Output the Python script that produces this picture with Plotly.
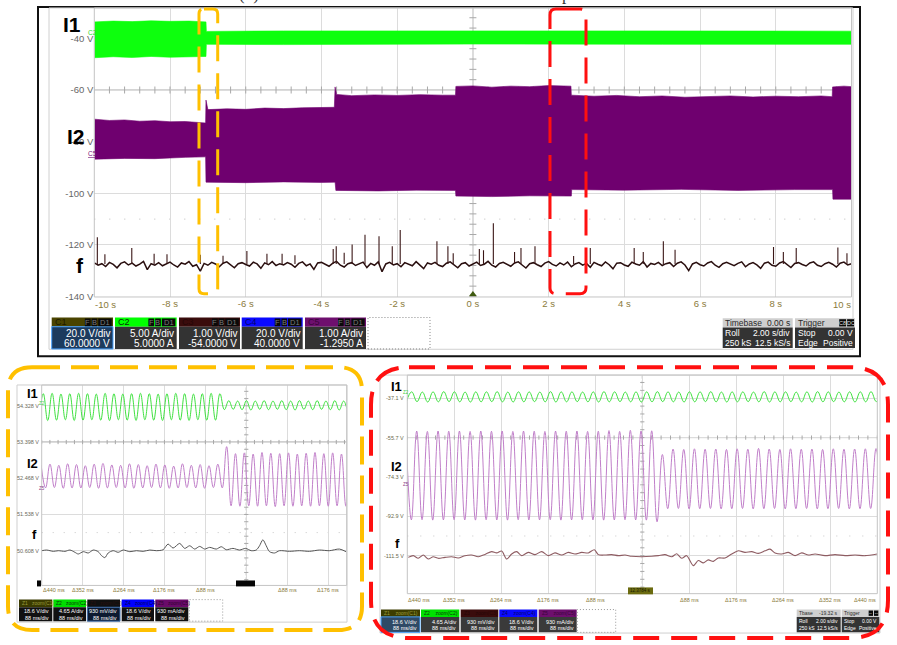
import numpy as np
import plotly.graph_objects as go

W, H = 897, 645

# ================= DATA =================
# ---- main (roll mode, 20 s) ----
main_xticks = [-8, -6, -4, -2, 0, 2, 4, 6, 8]
main_xtick_text = ["-8 s", "-6 s", "-4 s", "-2 s", "0 s", "2 s", "4 s", "6 s", "8 s"]
main_yticks = [-40, -60, -80, -100, -120, -140]
main_ytick_text = ["-40 V", "-60 V", "-80 V", "-100 V", "-120 V", "-140 V"]

# I1 envelope (green band)
i1_t = [-10, -9.5, -9.0, -8.5, -8.0, -7.5, -7.05, -7.04, -5.0, 0.0, 5.0, 10]
i1_top = [-33.6, -33.3, -33.5, -33.2, -33.4, -33.3, -33.6, -37.3, -37.1, -37.0, -37.1, -37.2]
i1_bot = [-47.5, -47.1, -47.4, -47.0, -47.3, -47.2, -47.0, -42.3, -42.4, -42.2, -42.3, -42.3]

# I2 envelope (purple band)
i2_top_t = [-10, -9.6, -9.2, -8.8, -8.4, -8.0, -7.6, -7.2, -7.06, -7.05, -7.0,
            -6.5, -6.0, -5.5, -5.0, -4.5, -4.0, -3.66, -3.64, -3.6,
            -3.2, -2.6, -2.0, -1.4, -0.8, -0.46, -0.45, 0.0, 0.5, 1.0, 1.5, 2.0, 2.59,
            2.6, 3.2, 3.8, 4.4, 5.0, 5.6, 6.2, 6.8, 7.4, 8.0, 8.6, 9.2, 9.49, 9.5, 9.8, 10]
i2_top_v = [-71.3, -71.8, -71.6, -72.1, -71.9, -72.3, -72.2, -72.8, -72.8, -63.9, -67.6,
            -67.3, -67.5, -67.0, -67.2, -66.9, -66.8, -66.7, -58.8, -61.7,
            -62.2, -61.9, -62.1, -61.8, -62.0, -62.0, -58.6, -58.4, -58.9, -58.5, -58.7, -58.3, -58.5,
            -62.0, -62.4, -62.1, -62.6, -62.3, -62.8, -62.5, -62.3, -62.7, -62.4, -62.6, -62.3, -62.6, -58.8, -58.5, -58.7]
i2_bot_t = [-10, -9.2, -8.4, -7.6, -7.06, -7.05, -6.0, -5.0, -4.0, -3.64, -3.62, -2.5, -1.5,
            -0.46, -0.45, 0.5, 1.5, 2.6, 2.61, 4.0, 5.5, 7.0, 8.5, 9.5, 9.51, 10]
i2_bot_v = [-86.8, -86.5, -86.6, -86.1, -85.9, -95.7, -95.9, -95.6, -95.8, -95.7, -98.9, -99.1, -98.8,
            -98.9, -101.1, -101.3, -101.0, -101.1, -98.6, -98.8, -98.5, -98.9, -98.6, -98.6, -102.3, -102.3]

# f trace (sampled every 0.1 s from -10 s to 10 s)
f_step = 0.1
f_main = [
    -127.0, -127.9, -127.3, -128.4, -126.8, -127.6, -128.9, -127.2, -126.6, -127.8,
    -127.1, -128.2, -127.5, -126.4, -129.6, -127.3, -127.9, -126.9, -128.1, -127.4,
    -126.7, -127.8, -128.6, -127.0, -127.5, -126.5, -128.3, -127.7, -130.2, -127.2,
    -127.9, -126.8, -127.4, -128.5, -127.1, -126.6, -127.8, -128.9, -127.3, -126.9,
    -127.6, -128.2, -126.7, -127.4, -129.1, -127.0, -127.7, -126.5, -128.0, -127.3,
    -127.8, -126.9, -127.5, -128.7, -127.2, -126.6, -128.1, -127.4, -129.5, -127.0,
    -126.8, -127.7, -128.3, -127.1, -126.4, -127.9, -128.6, -127.3, -126.9, -128.0,
    -127.5, -126.7, -128.8, -127.2, -127.9, -126.6, -130.4, -127.4, -126.8, -127.8,
    -127.3, -128.5, -126.9, -127.6, -128.1, -126.5, -127.7, -129.2, -127.0, -127.5,
    -126.8, -127.9, -128.4, -127.1, -126.6, -127.7, -128.9, -127.3, -126.9, -128.2,
    -127.4, -126.7, -128.0, -127.5, -126.4, -127.9, -128.6, -127.2, -126.8, -127.6,
    -128.3, -127.0, -126.6, -127.8, -129.0, -127.3, -126.9, -127.7, -128.4, -127.1,
    -126.5, -127.6, -128.2, -127.0, -127.8, -126.7, -128.5, -127.4, -126.9, -127.9,
    -127.2, -128.7, -126.8, -127.5, -128.1, -126.6, -127.7, -129.3, -127.1, -126.9,
    -127.8, -128.3, -126.7, -127.4, -127.9, -126.5, -128.6, -127.2, -127.6, -126.8,
    -128.0, -127.3, -126.9, -128.4, -127.1, -126.6, -127.8, -130.0, -127.4, -126.8,
    -127.7, -128.2, -127.0, -126.5, -127.9, -128.7, -127.3, -126.8, -127.6, -128.1,
    -127.2, -126.6, -128.5, -127.4, -126.9, -127.8, -129.1, -127.1, -126.7, -127.9,
    -128.3, -127.0, -126.5, -127.7, -128.8, -127.2, -126.9, -127.6, -128.2, -127.0,
    -126.6, -127.9, -128.4, -127.3, -126.8, -127.5, -128.6, -127.1, -126.7, -127.8,
    -127.3]
f_base = -127.4
f_spike_t = [-9.92, -9.72, -9.01, -8.42, -8.08, -7.2, -6.6, -5.97, -5.44, -5.04, -4.7, -3.69, -3.61, -3.40,
             -3.19, -2.85, -2.48, -2.13, -1.92, -0.95, -0.66, -0.52, 0.17, 0.28, 0.54, 1.10, 1.27,
             1.64, 2.66, 3.10, 4.26, 4.50, 5.03, 5.34, 7.94, 8.20, 8.54, 9.64, 9.88]
f_spike_v = [-117.1, -123.6, -121.2, -123.4, -123.6, -123.8, -124.2, -122.4, -123.4, -123.4, -124.0, -121.6,
             -120.5, -123.1, -119.9, -116.1, -116.7, -120.5, -114.2, -118.6, -120.5, -123.3, -121.6,
             -122.1, -111.6, -122.8, -121.2, -120.5, -124.3, -121.2, -121.2, -122.8, -118.6, -121.9,
             -120.8, -122.8, -121.2, -121.0, -123.3]

# ---- left zoom (orange box) ----
lz_xgrid = [-352, -264, -176, -88, 0, 88, 176]
lz_xlabels = ["Δ352 ms", "Δ264 ms", "Δ176 ms", "Δ88 ms", "Δ88 ms", "Δ176 ms"]
lz_xlabel_pos = [-352, -264, -176, -88, 88, 176]
lz_ylevels = [54.328, 53.398, 52.468, 51.538, 50.608, 49.678]
lz_ylabels = ["54.328 V", "53.398 V", "52.468 V", "51.538 V", "50.608 V", "49.678"]
lz_half_period = 9.5
lz_i1_t0 = -446.1
lz_i1_big = [53.97, 54.64, 53.95, 54.65, 53.96, 54.63, 53.97, 54.64, 53.95, 54.65, 53.96, 54.64,
             53.97, 54.63, 53.96, 54.65, 53.95, 54.64, 53.97, 54.63, 53.96, 54.64, 53.95, 54.65,
             53.97, 54.64, 53.96, 54.63, 53.95, 54.64, 53.97, 54.65, 53.96, 54.64, 53.95, 54.63,
             53.97, 54.64, 53.96, 54.65, 53.96, 54.64]
lz_i1_small = [54.23, 54.46, 54.24, 54.45, 54.23, 54.46, 54.22, 54.45, 54.24, 54.46, 54.23, 54.45,
               54.24, 54.46, 54.23, 54.45, 54.22, 54.46, 54.24, 54.45, 54.23, 54.46, 54.24, 54.45,
               54.23, 54.46, 54.22, 54.45, 54.24, 54.46]
lz_i2_t0 = -441.2
lz_i2_small = [52.81, 52.22, 52.83, 52.23, 52.80, 52.21, 52.84, 52.22, 52.82, 52.22, 52.79, 52.23,
               52.83, 52.21, 52.85, 52.22, 52.81, 52.23, 52.80, 52.22, 52.84, 52.21, 52.82, 52.22,
               52.79, 52.23, 52.83, 52.22, 52.81, 52.21, 52.78, 52.22, 52.84, 52.23, 52.80, 52.22,
               52.82, 52.21, 52.79, 52.23, 52.83, 52.22]
lz_i2_big = [53.28, 51.76, 53.10, 51.75, 53.12, 51.76, 53.09, 51.75, 53.13, 51.76, 53.11, 51.74,
             53.10, 51.76, 53.12, 51.75, 53.09, 51.76, 53.11, 51.75, 53.13, 51.76, 53.10, 51.75,
             53.12, 51.76, 53.09, 51.75, 53.11]
lz_f_t = [-440, -429.3, -415, -404.3, -390, -379.3, -368.5, -361.4, -350.6, -339.9, -329.2, -318.5,
          -311.3, -304.1, -297, -286.2, -275.5, -264.8, -250.5, -236.2, -221.9, -207.5, -193.2,
          -178.9, -168.2, -157.5, -143.2, -132.4, -121.7, -111, -100.2, -89.5, -78.8, -64.4, -53.7,
          -43, -28.7, -14.4, -1.5, 10.7, 21.4, 28.6, 35.7, 42.9, 50, 60.8, 71.5, 93, 114.4, 135.9,
          157.3, 178.8, 200.3, 214.6]
lz_f_v = [50.608, 50.625, 50.591, 50.608, 50.591, 50.625, 50.566, 50.523, 50.583, 50.549, 50.625,
          50.583, 50.481, 50.430, 50.549, 50.608, 50.566, 50.625, 50.583, 50.608, 50.591, 50.625,
          50.608, 50.633, 50.778, 50.676, 50.795, 50.667, 50.735, 50.650, 50.718, 50.650, 50.693,
          50.650, 50.710, 50.633, 50.667, 50.625, 50.667, 50.608, 50.625, 50.735, 50.888, 50.735,
          50.583, 50.549, 50.608, 50.591, 50.608, 50.591, 50.625, 50.608, 50.650, 50.583]

# ---- right zoom (red box) ----
rz_xgrid = [-352, -264, -176, -88, 0, 88, 176, 264, 352]
rz_xlabels = ["Δ440 ms", "Δ352 ms", "Δ264 ms", "Δ176 ms", "Δ88 ms", "Δ88 ms", "Δ176 ms",
              "Δ264 ms", "Δ352 ms", "Δ440 ms"]
rz_xlabel_pos = [-440, -352, -264, -176, -88, 88, 176, 264, 352, 440]
rz_ylevels = [-37.1, -55.7, -74.3, -92.9, -111.5, -130.1]
rz_ylabels = ["-37.1 V", "-55.7 V", "-74.3 V", "-92.9 V", "-111.5 V", "-130.1"]
rz_half_period = 10.0
rz_i1_t0 = -441.8
rz_i1 = [-38.8, -34.1, -38.7, -34.2, -38.9, -34.1, -38.8, -34.0, -38.7, -34.1, -38.8, -34.2,
         -38.9, -34.1, -38.8, -34.1, -38.7, -34.0, -38.8, -34.2, -38.9, -34.1, -38.8, -34.1,
         -38.7, -34.2, -38.8, -34.0, -38.9, -34.1, -38.8, -34.1, -38.7, -34.2, -38.8, -34.1,
         -38.9, -34.0, -38.8, -34.1, -38.7, -34.2, -38.8, -34.1, -38.9, -34.1, -38.8, -34.0,
         -38.7, -34.1, -38.8, -34.2, -38.9, -34.1, -38.8, -34.1, -38.7, -34.0, -38.8, -34.2,
         -38.9, -34.1, -38.8, -34.1, -38.7, -34.2, -38.8, -34.0, -38.9, -34.1, -38.8, -34.1,
         -38.7, -34.2, -38.8, -34.1, -38.9, -34.0, -38.8, -34.1, -38.7, -34.2, -38.8, -34.1,
         -38.9, -34.1, -38.8, -34.0, -38.7, -34.1]
rz_i2_t0 = -442.4
rz_i2_big = [-52.7, -94.6, -52.6, -94.5, -52.8, -94.7, -52.6, -94.6, -52.7, -94.5, -52.6, -94.6,
             -52.8, -94.7, -52.6, -94.5, -52.7, -94.6, -52.6, -94.7, -52.8, -94.5, -52.6, -94.6,
             -52.7, -94.6, -52.8, -94.5, -52.6, -94.7, -52.7, -94.6, -52.6, -94.5, -52.8, -94.6,
             -52.7, -94.7, -52.4, -94.6, -52.8, -94.5, -52.3, -94.6, -52.6, -94.7, -52.5, -95.5]
rz_i2_small = [-63.7, -89.3, -61.1, -89.2, -61.3, -89.4, -61.0, -89.3, -61.2, -89.2, -61.1, -89.4,
               -61.3, -89.3, -61.0, -89.2, -61.2, -89.4, -60.8, -89.3, -61.1, -89.2, -61.3, -89.4,
               -61.0, -89.3, -61.2, -89.2, -61.1, -89.4, -61.3, -89.3, -61.0, -89.2, -61.2, -89.4,
               -61.1, -89.3, -61.0, -89.2, -60.9, -89.3]
rz_f_t = [-438.2, -428.8, -419.5, -410.1, -400.7, -391.4, -382, -369.5, -356.9, -344.6, -332, -319.5,
          -307.1, -294.6, -282, -272.7, -263.3, -253.9, -244.6, -235.2, -225.8, -213.5, -200.9,
          -188.4, -176, -163.5, -150.9, -138.6, -126, -113.5, -101.1, -89.9, -82.4, -69.9, -57.3,
          -44.9, -32.4, -19.9, -1.1, 17.6, 30, 42.5, 55.1, 64.4, 73.8, 83.1, 95.5, 104.9, 114.2,
          123.6, 133, 142.3, 154.9, 167.4, 179.8, 192.3, 204.9, 217.2, 229.8, 239.1, 248.5, 261,
          273.4, 286, 298.5, 310.9, 323.4, 342.1, 360.9, 379.6, 398.3, 417, 440]
rz_f_v = [-112.3, -111.5, -112.75, -111.2, -113.1, -112.0, -112.75, -112.3, -112.0, -112.6, -111.5,
          -111.2, -112.0, -110.9, -109.6, -110.2, -109.3, -113.1, -110.7, -109.6, -111.5, -109.95,
          -111.0, -109.6, -111.5, -110.2, -111.2, -109.95, -110.7, -109.95, -110.2, -108.7, -111.0,
          -111.2, -111.0, -111.5, -111.2, -111.8, -112.0, -111.8, -111.5, -111.0, -112.0, -110.6,
          -112.75, -111.5, -116.2, -113.8, -114.9, -113.5, -114.2, -112.6, -112.6, -110.7, -109.2,
          -109.95, -109.6, -110.4, -109.2, -108.4, -110.2, -110.7, -109.95, -111.5, -110.2, -111.2,
          -110.7, -111.5, -111.0, -111.5, -111.2, -111.5, -110.7]

# ================= HELPERS =================
def X(p):
    return p / W


def Y(p):
    return 1 - p / H


shapes = []
annotations = []
FONT = "Liberation Sans, Arial, sans-serif"
GRID = "#dcdcdc"
AX = "#a8a8a8"


def rect(x0, y0, x1, y1, fill=None, line_color=None, line_width=1, dash=None, layer="above"):
    d = dict(type="rect", xref="paper", yref="paper", x0=X(x0), x1=X(x1), y0=Y(y1), y1=Y(y0),
             layer=layer,
             line=dict(width=line_width if line_color else 0,
                       color=line_color if line_color else "rgba(0,0,0,0)"))
    if dash:
        d["line"]["dash"] = dash
    if fill:
        d["fillcolor"] = fill
    shapes.append(d)


def text(s, x, y, size=9, color="#000", xanchor="center", yanchor="middle", bold=False,
         family=FONT, xref="paper", yref="paper"):
    xx = X(x) if xref == "paper" else x
    yy = Y(y) if yref == "paper" else y
    annotations.append(dict(text=f"<b>{s}</b>" if bold else s, x=xx, y=yy, xref=xref, yref=yref,
                            xanchor=xanchor, yanchor=yanchor, showarrow=False, borderpad=0,
                            font=dict(size=size, color=color, family=family)))


def rpath(x0, y0, x1, y1, r):
    def P(x, y):
        return f"{X(x):.5f},{Y(y):.5f}"
    return (f"M {P(x0 + r, y0)} L {P(x1 - r, y0)} Q {P(x1, y0)} {P(x1, y0 + r)} "
            f"L {P(x1, y1 - r)} Q {P(x1, y1)} {P(x1 - r, y1)} L {P(x0 + r, y1)} "
            f"Q {P(x0, y1)} {P(x0, y1 - r)} L {P(x0, y0 + r)} Q {P(x0, y0)} {P(x0 + r, y0)} Z")


def dashed_box(x0, y0, x1, y1, r, color, width, dash):
    shapes.append(dict(type="path", xref="paper", yref="paper", path=rpath(x0, y0, x1, y1, r),
                       line=dict(color=color, width=width, dash=dash), layer="above"))


def chan_box(x0, x1, y0, yh, y1, head, name, name_col, body, border, l1, l2, fh, fb, minis=True,
             mini_labels=("F", "B", "D1")):
    rect(x0, y0, x1, yh, fill=head)
    rect(x0, yh, x1, y1, fill=body, line_color=border, line_width=1 if border else 0)
    text(name, x0 + 2, (y0 + yh) / 2, size=fh, color=name_col, xanchor="left")
    if minis:
        w = x1 - x0
        k = w / 61.0
        segs = [(-28, -22.3), (-21.3, -15.7), (-14.7, -1.3)]
        for (a, b), lab in zip(segs, mini_labels):
            rect(x1 + a * k, y0 + 1, x1 + b * k, yh - 0.5, fill="#0a0a0a")
            text(lab, x1 + (a + b) / 2 * k, (y0 + yh) / 2, size=fh - 1.5, color="#7a7a7a")
    text(l1, x1 - 2, yh + (y1 - yh) * 0.3, size=fb, color="#ffffff", xanchor="right")
    text(l2, x1 - 2, yh + (y1 - yh) * 0.75, size=fb, color="#ffffff", xanchor="right")


def info_box(x0, x1, y0, yh, y1, head_l, head_r, rows, fh, fb, badges=None):
    rect(x0, y0, x1, yh, fill="#cfcfcf")
    rect(x0, yh, x1, y1, fill="#333333")
    text(head_l, x0 + 1.5, (y0 + yh) / 2, size=fh, color="#2a2a2a", xanchor="left")
    if head_r:
        text(head_r, x1 - 1.5, (y0 + yh) / 2, size=fh, color="#2a2a2a", xanchor="right")
    if badges:
        bw = (x1 - x0) * 0.115
        for i, b in enumerate(badges):
            bx1 = x1 - 1 - i * (bw + 1)
            rect(bx1 - bw, y0 + 1, bx1, yh - 1, fill="#0a0a0a")
            text(b, bx1 - bw / 2, (y0 + yh) / 2, size=fh - 3, color="#dddddd")
    for i, (a, b) in enumerate(rows):
        yy = yh + (y1 - yh) * (0.28 + 0.47 * i)
        text(a, x0 + 1.5, yy, size=fb, color="#ffffff", xanchor="left")
        text(b, x1 - 1.5, yy, size=fb, color="#ffffff", xanchor="right")


def extrema_times(t0, half, n):
    return [t0 + half * k for k in range(n)]


def tick_marks(xs, ys, sym, size, xa, ya):
    return go.Scatter(x=xs, y=ys, mode="markers",
                      marker=dict(symbol=sym, size=size, color=AX, line=dict(color=AX, width=1)),
                      xaxis=xa, yaxis=ya, hoverinfo="skip", showlegend=False)


# ================= FIGURE =================
fig = go.Figure()

# --- center-axis tick marks (decoration) ---
tk_main_x = list(np.arange(-10, 10.001, 0.4))
fig.add_trace(tick_marks(tk_main_x, [-60] * len(tk_main_x), "line-ns-open", 5, "x", "y"))
tk_main_y = list(np.arange(-140, -28, 4))
fig.add_trace(tick_marks([0] * len(tk_main_y), tk_main_y, "line-ew-open", 5, "x", "y"))

# --- main traces ---
fig.add_trace(go.Scatter(x=i1_t + i1_t[::-1], y=i1_top + i1_bot[::-1], fill="toself",
                         fillcolor="#0dff0d", line=dict(color="#0dff0d", width=0.6), mode="lines",
                         xaxis="x", yaxis="y", hoverinfo="skip", showlegend=False))
fig.add_trace(go.Scatter(x=i2_top_t + i2_bot_t[::-1], y=i2_top_v + i2_bot_v[::-1], fill="toself",
                         fillcolor="#6f006f", line=dict(color="#6f006f", width=0.6), mode="lines",
                         xaxis="x", yaxis="y", hoverinfo="skip", showlegend=False))
f_main_t = [round(-10 + f_step * i, 2) for i in range(len(f_main))]
fig.add_trace(go.Scatter(x=f_main_t, y=f_main, mode="lines", line=dict(color="#2a0f0f", width=1.5),
                         xaxis="x", yaxis="y", hoverinfo="skip", showlegend=False))
sx, sy = [], []
for t, v in zip(f_spike_t, f_spike_v):
    sx += [t, t, None]
    sy += [f_base, v, None]
fig.add_trace(go.Scatter(x=sx, y=sy, mode="lines", line=dict(color="#3a1616", width=1.1),
                         xaxis="x", yaxis="y", hoverinfo="skip", showlegend=False))
fig.add_trace(go.Scatter(x=[0], y=[-139.2], mode="markers",
                         marker=dict(symbol="triangle-up", size=7, color="#3f5a10"),
                         xaxis="x", yaxis="y", hoverinfo="skip", showlegend=False))

# --- left zoom traces ---
tk = list(np.arange(-440, 216.1, 17.6))
fig.add_trace(tick_marks(tk, [53.398] * len(tk), "line-ns-open", 3, "x2", "y2"))
tky = list(np.arange(49.678, 54.86, 0.186))
fig.add_trace(tick_marks([0] * len(tky), tky, "line-ew-open", 3, "x2", "y2"))
lz_i1 = lz_i1_big + lz_i1_small
fig.add_trace(go.Scatter(x=extrema_times(lz_i1_t0, lz_half_period, len(lz_i1)), y=lz_i1,
                         mode="lines", line=dict(color="#3fe03f", width=1, shape="spline", smoothing=1.2),
                         xaxis="x2", yaxis="y2", hoverinfo="skip", showlegend=False))
lz_i2 = lz_i2_small + lz_i2_big
fig.add_trace(go.Scatter(x=extrema_times(lz_i2_t0, lz_half_period, len(lz_i2)), y=lz_i2,
                         mode="lines", line=dict(color="#c07fc9", width=1, shape="spline", smoothing=1.2),
                         xaxis="x2", yaxis="y2", hoverinfo="skip", showlegend=False))
fig.add_trace(go.Scatter(x=lz_f_t, y=lz_f_v, mode="lines",
                         line=dict(color="#555555", width=1, shape="spline", smoothing=0.8),
                         xaxis="x2", yaxis="y2", hoverinfo="skip", showlegend=False))

# --- right zoom traces ---
tk = list(np.arange(-440, 440.1, 17.6))
fig.add_trace(tick_marks(tk, [-55.7] * len(tk), "line-ns-open", 3, "x3", "y3"))
tky = list(np.arange(-130.1, -26.2, 3.72))
fig.add_trace(tick_marks([0] * len(tky), tky, "line-ew-open", 3, "x3", "y3"))
fig.add_trace(go.Scatter(x=extrema_times(rz_i1_t0, rz_half_period, len(rz_i1)), y=rz_i1,
                         mode="lines", line=dict(color="#3fe03f", width=1, shape="spline", smoothing=1.2),
                         xaxis="x3", yaxis="y3", hoverinfo="skip", showlegend=False))
rz_i2 = rz_i2_big + rz_i2_small
fig.add_trace(go.Scatter(x=extrema_times(rz_i2_t0, rz_half_period, len(rz_i2)), y=rz_i2,
                         mode="lines", line=dict(color="#c07fc9", width=1, shape="spline", smoothing=1.2),
                         xaxis="x3", yaxis="y3", hoverinfo="skip", showlegend=False))
fig.add_trace(go.Scatter(x=rz_f_t, y=rz_f_v, mode="lines",
                         line=dict(color="#8e5c62", width=1.1, shape="spline", smoothing=0.8),
                         xaxis="x3", yaxis="y3", hoverinfo="skip", showlegend=False))

# ================= DECORATION =================
# main screen
rect(38, 7, 860, 359, line_color="#111111", line_width=2)
rect(49, 8, 853, 352, line_color="#d0d0d0", line_width=1)
shapes.append(dict(type="rect", xref="x domain", yref="y domain", x0=0, x1=1, y0=0, y1=1,
                   line=dict(color="#c4c4c4", width=1), layer="above"))
shapes.append(dict(type="line", xref="x", yref="y domain", x0=0, x1=0, y0=0, y1=1,
                   line=dict(color=AX, width=1), layer="below"))
shapes.append(dict(type="line", xref="x domain", yref="y", x0=0, x1=1, y0=-60, y1=-60,
                   line=dict(color=AX, width=1), layer="below"))
shapes.append(dict(type="line", xref="x domain", yref="y", x0=0, x1=1, y0=-110, y1=-110,
                   line=dict(color="#c8c8c8", width=1.2, dash="1px,14px"), layer="below"))

text("I1", 62, 25, size=21, bold=True, xanchor="left")
text("I2", 66, 138, size=21, bold=True, xanchor="left")
text("f", 75, 268, size=21, bold=True, xanchor="left")
text("C2", 87, 33, size=6.5, color="#2bd92b", xanchor="left")
text("<u>C5</u>", 87, 155, size=6.5, color="#7a1a7a", xanchor="left")
text("-10 s", -10, 307, size=9.5, color="#8a7a3a", xanchor="left", xref="x")
text("10 s", 10, 307, size=9.5, color="#8a7a3a", xanchor="right", xref="x")

# main channel boxes
ch_y = (320, 329.3, 351.7)
chan_box(51.7, 113, *ch_y, "#4a4400", "C1", "#1e1b00", "#1c3b5e", "#4aa3ff", "20.0 V/div", "60.0000 V", 9, 10)
chan_box(115, 176.7, *ch_y, "#00ff00", "C2", "#0a2a0a", "#333333", None, "5.00 A/div", "5.0000 A", 9, 10)
chan_box(179, 240, *ch_y, "#3a0c0c", "C3", "#250707", "#333333", None, "1.00 V/div", "-54.0000 V", 9, 10)
chan_box(241.7, 302.7, *ch_y, "#0a0aff", "C4", "#04046a", "#333333", None, "20.0 V/div", "40.0000 V", 9, 10)
chan_box(305, 366, *ch_y, "#6e0f6e", "C5", "#3a053a", "#333333", None, "1.00 A/div", "-1.2950 A", 9, 10)
rect(368, 320, 430, 351.7, line_color="#888888", line_width=1, dash="1px,2px")
info_box(722.7, 792.7, 320.7, 330, 350.7, "Timebase", "0.00 s",
         [("Roll", "2.00 s/div"), ("250 kS", "12.5 kS/s")], 8.5, 8.5)
info_box(795, 855, 320.7, 330, 350.7, "Trigger", None,
         [("Stop", "0.00 V"), ("Edge", "Positive")], 8.5, 8.5, badges=["DC", "C8"])

# left zoom screen
rect(17, 388, 347, 627, line_color="#cfcfcf", line_width=1)
shapes.append(dict(type="rect", xref="x2 domain", yref="y2 domain", x0=0, x1=1, y0=0, y1=1,
                   line=dict(color="#c4c4c4", width=1), layer="above"))
shapes.append(dict(type="line", xref="x2", yref="y2 domain", x0=0, x1=0, y0=0, y1=1,
                   line=dict(color="#9a9a9a", width=1, dash="3px,2px"), layer="below"))
shapes.append(dict(type="line", xref="x2 domain", yref="y2", x0=0, x1=1, y0=53.398, y1=53.398,
                   line=dict(color="#9a9a9a", width=1), layer="below"))
shapes.append(dict(type="line", xref="x2 domain", yref="y2", x0=0, x1=1, y0=51.073, y1=51.073,
                   line=dict(color="#c8c8c8", width=1, dash="1px,10px"), layer="below"))
for v, lab in zip(lz_ylevels, lz_ylabels):
    text(lab, 40, v, size=5.5, color="#6a6a5a", xanchor="right", yref="y2")
for xv, lab in zip(lz_xlabel_pos, lz_xlabels):
    text(lab, xv, 595, size=5.5, color="#8a7a3a", xref="x2")
text("Δ440 ms", -440, 595, size=5.5, color="#8a7a3a", xanchor="left", xref="x2")
text("Z2", 38, 407, size=4.5, color="#3fd03f", xanchor="left")
text("Z5", 38, 492, size=4.5, color="#8a3a8a", xanchor="left")
text("I1", 26, 397, size=13, bold=True, xanchor="left")
text("I2", 26, 467, size=13, bold=True, xanchor="left")
text("f", 31, 539, size=13, bold=True, xanchor="left")
rect(236, 585, 255, 591, fill="#050505")
rect(37, 585, 41, 591, fill="#050505")

zl = (604.3, 612, 626)
chan_box(19, 52.3, *zl, "#3b3b00", "Z1   zoom(C1)", "#9a9a3a", "#111111", None, "18.6 V/div", "88 ms/div", 5, 5.5, minis=False)
chan_box(53.3, 86, *zl, "#00dd00", "Z2   zoom(C2)", "#0a3a0a", "#111111", None, "4.65 A/div", "88 ms/div", 5, 5.5, minis=False)
chan_box(87.3, 120, *zl, "#101010", "Z3   zoom(C3)", "#2a1010", "#0d1a30", "#3a6aa8", "930 mV/div", "88 ms/div", 5, 5.5, minis=False)
chan_box(121.7, 154, *zl, "#0000ff", "Z4   zoom(C4)", "#00005a", "#111111", None, "18.6 V/div", "88 ms/div", 5, 5.5, minis=False)
chan_box(155.3, 188.3, *zl, "#6a0a6a", "Z5   zoom(C5)", "#300530", "#111111", None, "930 mA/div", "88 ms/div", 5, 5.5, minis=False)
rect(189.3, 604.3, 222.7, 626, line_color="#999999", line_width=1, dash="1px,2px")

# right zoom screen
rect(380, 378, 880, 638, line_color="#cfcfcf", line_width=1)
shapes.append(dict(type="rect", xref="x3 domain", yref="y3 domain", x0=0, x1=1, y0=0, y1=1,
                   line=dict(color="#c4c4c4", width=1), layer="above"))
shapes.append(dict(type="line", xref="x3", yref="y3 domain", x0=0, x1=0, y0=0, y1=1,
                   line=dict(color="#9a9a9a", width=1, dash="3px,2px"), layer="below"))
shapes.append(dict(type="line", xref="x3 domain", yref="y3", x0=0, x1=1, y0=-55.7, y1=-55.7,
                   line=dict(color="#9a9a9a", width=1), layer="below"))
shapes.append(dict(type="line", xref="x3 domain", yref="y3", x0=0, x1=1, y0=-102.2, y1=-102.2,
                   line=dict(color="#c8c8c8", width=1, dash="1px,12px"), layer="below"))
for v, lab in zip(rz_ylevels, rz_ylabels):
    text(lab, 405, v, size=5.5, color="#6a6a4a", xanchor="right", yref="y3")
for i, (xv, lab) in enumerate(zip(rz_xlabel_pos, rz_xlabels)):
    anc = "left" if i == 0 else ("right" if i == len(rz_xlabels) - 1 else "center")
    text(lab, xv, 604.3, size=5.5, color="#8a7a3a", xanchor=anc, xref="x3")
text("Z2", 402, 396, size=4.5, color="#3fd03f", xanchor="left")
text("Z5", 402, 488, size=4.5, color="#8a3a8a", xanchor="left")
text("I1", 390, 390, size=13, bold=True, xanchor="left")
text("I2", 390, 470, size=13, bold=True, xanchor="left")
text("f", 394, 548, size=13, bold=True, xanchor="left")
rect(628, 592, 653, 599, fill="#6b6b10")
text("12.3784 s", 640.5, 595.5, size=4.5, color="#1a1a00")

zr = (614.3, 621.7, 637.3)
chan_box(381, 420, *zr, "#3d3d00", "Z1    zoom(C1)", "#9a9a3a", "#2f4a66", "#4aa3ff", "18.6 V/div", "88 ms/div", 5, 5.5, minis=False)
chan_box(421, 459.3, *zr, "#00e000", "Z2    zoom(C2)", "#0a3a0a", "#3a3a3a", None, "4.65 A/div", "88 ms/div", 5, 5.5, minis=False)
chan_box(460.7, 498.3, *zr, "#3a0c0c", "Z3    zoom(C3)", "#250707", "#3a3a3a", None, "930 mV/div", "88 ms/div", 5, 5.5, minis=False)
chan_box(499.3, 537.3, *zr, "#0a0aff", "Z4    zoom(C4)", "#04046a", "#3a3a3a", None, "18.6 V/div", "88 ms/div", 5, 5.5, minis=False)
chan_box(538.7, 576.7, *zr, "#6e0f6e", "Z5    zoom(C5)", "#3a053a", "#3a3a3a", None, "930 mA/div", "88 ms/div", 5, 5.5, minis=False)
rect(577.3, 614.3, 615.7, 637.3, line_color="#999999", line_width=1, dash="1px,2px")
info_box(796.7, 840.7, 614.3, 621.7, 637.3, "Tbase", "-19.32 s",
         [("Roll", "2.00 s/div"), ("250 kS", "12.5 kS/s")], 5, 5)
info_box(841.7, 879.3, 614.3, 621.7, 637.3, "Trigger", None,
         [("Stop", "0.00 V"), ("Edge", "Positive")], 5, 5, badges=["DC", "C8"])

# highlight boxes
dashed_box(199, 9, 217.7, 296, 5, "#FFC000", 3, "26px,12px")
dashed_box(550, 9, 586, 296, 6, "#FF1010", 3, "26px,12px")
dashed_box(8, 370, 362, 635, 24, "#FFC000", 4, "28px,11px")
dashed_box(371, 370, 888, 643, 38, "#FF1010", 4, "26px,12px")

# clipped caption fragments at the very top
text("(b)", 249, 5, size=17, color="#333333", yanchor="bottom", family="Liberation Serif, serif")
text("p", 566, 5, size=17, color="#333333", yanchor="bottom", family="Liberation Serif, serif")

fig.update_layout(
    width=W, height=H, autosize=False,
    margin=dict(l=0, r=0, t=0, b=0),
    paper_bgcolor="white", plot_bgcolor="white",
    showlegend=False,
    font=dict(family=FONT),
    xaxis=dict(domain=[X(94.3), X(851.5)], range=[-10, 10], tickvals=main_xticks, ticktext=main_xtick_text,
               showgrid=True, gridcolor=GRID, zeroline=False, showline=False, ticks="",
               tickfont=dict(size=9.5, color="#8a7a3a"), anchor="y"),
    yaxis=dict(domain=[Y(299.3), Y(8)], range=[-140.2, -28.2], tickvals=main_yticks, ticktext=main_ytick_text,
               showgrid=True, gridcolor=GRID, zeroline=False, showline=False, ticks="",
               tickfont=dict(size=9.5, color="#666666"), anchor="x"),
    xaxis2=dict(domain=[X(41.7), X(346.7)], range=[-440, 216], tickvals=lz_xgrid, showticklabels=False,
                showgrid=True, gridcolor=GRID, zeroline=False, showline=False, ticks="", anchor="y2"),
    yaxis2=dict(domain=[Y(590), Y(388)], range=[49.716, 54.863], tickvals=lz_ylevels, showticklabels=False,
                showgrid=True, gridcolor=GRID, zeroline=False, showline=False, ticks="", anchor="x2"),
    xaxis3=dict(domain=[X(407.3), X(877.3)], range=[-440, 440], tickvals=rz_xgrid, showticklabels=False,
                showgrid=True, gridcolor=GRID, zeroline=False, showline=False, ticks="", anchor="y3"),
    yaxis3=dict(domain=[Y(598.3), Y(378)], range=[-129.45, -26.16], tickvals=rz_ylevels, showticklabels=False,
                showgrid=True, gridcolor=GRID, zeroline=False, showline=False, ticks="", anchor="x3"),
    shapes=shapes,
    annotations=annotations,
)

# remove the browser's default 8px body margin so the figure sits at the page origin
fig.write_html("out.html", config={"displayModeBar": False},
               post_script="document.body.style.margin='0';document.body.style.padding='0';")
